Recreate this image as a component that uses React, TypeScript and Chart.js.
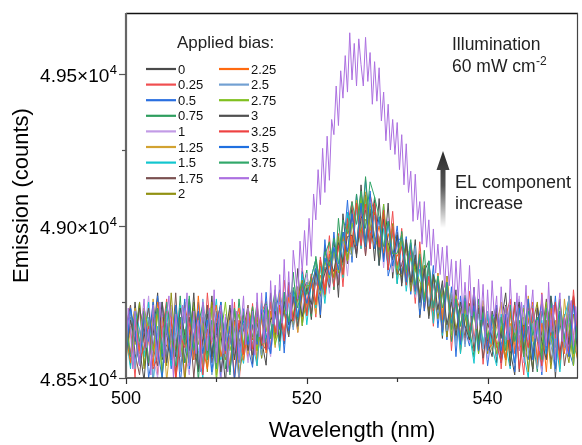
import { useEffect, useRef } from "react";
import { Chart, registerables } from "chart.js";

Chart.register(...registerables);

// Wavelength grids (nm)
const wavelengthBulk = [
  500, 500.5, 501, 501.5, 502, 502.5, 503, 503.5, 504, 504.5, 505, 505.5, 506, 506.5, 507, 507.5, 508, 508.5, 509, 509.5,
  510, 510.5, 511, 511.5, 512, 512.5, 513, 513.5, 514, 514.5, 515, 515.5, 516, 516.5, 517, 517.5, 518, 518.5, 519, 519.5,
  520, 520.5, 521, 521.5, 522, 522.5, 523, 523.5, 524, 524.5, 525, 525.5, 526, 526.5, 527, 527.5, 528, 528.5, 529, 529.5,
  530, 530.5, 531, 531.5, 532, 532.5, 533, 533.5, 534, 534.5, 535, 535.5, 536, 536.5, 537, 537.5, 538, 538.5, 539, 539.5,
  540, 540.5, 541, 541.5, 542, 542.5, 543, 543.5, 544, 544.5, 545, 545.5, 546, 546.5, 547, 547.5, 548, 548.5, 549, 549.5,
  550,
];

const wavelengthFine = [
  500, 500.25, 500.5, 500.75, 501, 501.25, 501.5, 501.75, 502, 502.25, 502.5, 502.75, 503, 503.25, 503.5, 503.75,
  504, 504.25, 504.5, 504.75, 505, 505.25, 505.5, 505.75, 506, 506.25, 506.5, 506.75, 507, 507.25, 507.5, 507.75,
  508, 508.25, 508.5, 508.75, 509, 509.25, 509.5, 509.75, 510, 510.25, 510.5, 510.75, 511, 511.25, 511.5, 511.75,
  512, 512.25, 512.5, 512.75, 513, 513.25, 513.5, 513.75, 514, 514.25, 514.5, 514.75, 515, 515.25, 515.5, 515.75,
  516, 516.25, 516.5, 516.75, 517, 517.25, 517.5, 517.75, 518, 518.25, 518.5, 518.75, 519, 519.25, 519.5, 519.75,
  520, 520.25, 520.5, 520.75, 521, 521.25, 521.5, 521.75, 522, 522.25, 522.5, 522.75, 523, 523.25, 523.5, 523.75,
  524, 524.25, 524.5, 524.75, 525, 525.25, 525.5, 525.75, 526, 526.25, 526.5, 526.75, 527, 527.25, 527.5, 527.75,
  528, 528.25, 528.5, 528.75, 529, 529.25, 529.5, 529.75, 530, 530.25, 530.5, 530.75, 531, 531.25, 531.5, 531.75,
  532, 532.25, 532.5, 532.75, 533, 533.25, 533.5, 533.75, 534, 534.25, 534.5, 534.75, 535, 535.25, 535.5, 535.75,
  536, 536.25, 536.5, 536.75, 537, 537.25, 537.5, 537.75, 538, 538.25, 538.5, 538.75, 539, 539.25, 539.5, 539.75,
  540, 540.25, 540.5, 540.75, 541, 541.25, 541.5, 541.75, 542, 542.25, 542.5, 542.75, 543, 543.25, 543.5, 543.75,
  544, 544.25, 544.5, 544.75, 545, 545.25, 545.5, 545.75, 546, 546.25, 546.5, 546.75, 547, 547.25, 547.5, 547.75,
  548, 548.25, 548.5, 548.75, 549, 549.25, 549.5, 549.75, 550,
];

// Emission (counts) per applied bias (V)
const bias0 = [
  48710, 48540, 48750, 48600, 48490, 48690, 48640, 48780, 48560, 48610, 48730, 48510, 48670, 48550, 48760, 48620, 48520, 48700, 48580, 48770, 48570, 48650, 48480, 48720, 48590, 48680,
  48578, 48730, 48545, 48720, 48625, 48542, 48780, 48640, 48770, 48612, 48815, 48668, 48860, 48672, 48815,
  48692, 48860, 48698, 48935, 48808, 48960, 48765, 49040, 48885, 49070, 48895, 49135, 48952, 49055, 48885, 49090, 48892, 49075, 48828, 48980,
  48802, 48955, 48815, 48955, 48698, 48850, 48885, 48700, 48825, 48630, 48835, 48680, 48790, 48590, 48722, 48615, 48798, 48580, 48715, 48600,
  48720, 48550, 48680, 48780, 48590, 48510, 48740, 48630, 48760, 48570, 48700, 48530, 48660, 48750, 48500, 48710, 48610, 48770, 48560, 48670,
];
const bias025 = [
  48580, 48670, 48500, 48740, 48620, 48560, 48720, 48510, 48650, 48760, 48550, 48600, 48700, 48490, 48730, 48570, 48660, 48530, 48780, 48610, 48540, 48710, 48640, 48520, 48750, 48480,
  48678, 48560, 48745, 48540, 48715, 48752, 48600, 48730, 48590, 48822, 48675, 48758, 48650, 48862, 48745,
  48842, 48700, 48898, 48795, 48968, 48790, 48975, 48800, 49005, 49080, 48915, 49045, 48902, 49105, 49035, 48870, 49052, 48895, 49048, 48830,
  48992, 48825, 48905, 48745, 48948, 48760, 48825, 48670, 48845, 48710, 48825, 48590, 48770, 48720, 48612, 48785, 48628, 48740, 48545, 48700,
  48620, 48740, 48530, 48700, 48760, 48580, 48640, 48510, 48730, 48680, 48560, 48780, 48600, 48670, 48750, 48540, 48710, 48570, 48790, 48610,
];
const bias05 = [
  48650, 48730, 48550, 48600, 48720, 48500, 48590, 48770, 48570, 48680, 48530, 48710, 48480, 48640, 48740, 48560, 48750, 48540, 48660, 48580, 48720, 48490, 48690, 48610, 48730, 48550,
  48728, 48600, 48535, 48730, 48595, 48782, 48580, 48710, 48790, 48582, 48785, 48768, 48660, 48852, 48715,
  48832, 48890, 48708, 48955, 48798, 48980, 48825, 48900, 49085, 48880, 49105, 48935, 49152, 48965, 49065, 48900, 49072, 48835, 48898, 49000,
  48842, 48965, 48775, 48905, 48708, 48850, 48725, 48870, 48665, 48800, 48625, 48800, 48570, 48770, 48662, 48605, 48788, 48610, 48705, 48540,
  48660, 48730, 48550, 48630, 48740, 48520, 48760, 48600, 48560, 48710, 48670, 48510, 48720, 48610, 48770, 48570, 48680, 48590, 48540, 48740,
];
const bias075 = [
  48590, 48700, 48640, 48750, 48540, 48660, 48570, 48730, 48510, 48740, 48650, 48580, 48770, 48550, 48620, 48730, 48490, 48680, 48720, 48570, 48670, 48750, 48530, 48640, 48560, 48760,
  48608, 48700, 48635, 48750, 48565, 48742, 48690, 48790, 48630, 48772, 48675, 48848, 48690, 48782, 48855,
  48702, 48900, 48798, 48905, 48948, 48790, 49025, 48870, 49035, 48930, 49105, 48965, 49162, 48985, 49095, 48890, 49032, 48885, 48988, 48810,
  48982, 48845, 48935, 48865, 48768, 48920, 48705, 48840, 48795, 48680, 48835, 48620, 48760, 48670, 48772, 48665, 48568, 48760, 48605, 48710,
  48610, 48730, 48660, 48560, 48720, 48620, 48750, 48590, 48690, 48630, 48520, 48720, 48660, 48760, 48570, 48680, 48600, 48740, 48580, 48670,
];
const bias1 = [
  48680, 48590, 48540, 48730, 48640, 48770, 48570, 48500, 48710, 48610, 48740, 48560, 48660, 48590, 48510, 48720, 48630, 48750, 48530, 48670, 48620, 48480, 48710, 48650, 48580, 48730,
  48658, 48550, 48715, 48610, 48745, 48642, 48570, 48740, 48680, 48642, 48765, 48678, 48780, 48722, 48845,
  48732, 48860, 48758, 48905, 48778, 48930, 48815, 48970, 48835, 49010, 48925, 49065, 48912, 49095, 48945, 49030, 48862, 49025, 48848, 48940,
  48862, 48905, 48925, 48765, 48878, 48740, 48835, 48720, 48835, 48660, 48795, 48640, 48740, 48650, 48732, 48615, 48728, 48610, 48695, 48560,
  48680, 48600, 48570, 48740, 48650, 48590, 48770, 48550, 48640, 48720, 48620, 48520, 48730, 48630, 48560, 48710, 48610, 48690, 48540, 48750,
];
const bias125 = [
  48560, 48660, 48730, 48580, 48690, 48540, 48760, 48610, 48700, 48490, 48640, 48720, 48570, 48750, 48550, 48620, 48710, 48530, 48670, 48740, 48510, 48680, 48600, 48730, 48500, 48650,
  48708, 48580, 48675, 48560, 48755, 48622, 48720, 48600, 48780, 48712, 48645, 48788, 48650, 48772, 48805,
  48822, 48710, 48868, 48765, 48918, 48830, 48935, 48830, 49025, 48940, 49085, 48925, 49112, 48985, 49055, 48880, 49042, 48895, 48978, 48830,
  48972, 48855, 48915, 48785, 48918, 48770, 48815, 48690, 48845, 48700, 48835, 48690, 48770, 48580, 48742, 48625, 48718, 48590, 48755, 48640,
  48590, 48670, 48750, 48540, 48680, 48610, 48730, 48580, 48770, 48620, 48700, 48560, 48740, 48640, 48690, 48530, 48760, 48630, 48570, 48710,
];
const bias15 = [
  48640, 48530, 48720, 48660, 48570, 48750, 48480, 48670, 48600, 48730, 48540, 48650, 48740, 48620, 48550, 48690, 48590, 48500, 48730, 48650, 48760, 48560, 48680, 48520, 48660, 48610,
  48548, 48690, 48615, 48540, 48745, 48612, 48650, 48740, 48590, 48742, 48635, 48778, 48670, 48842, 48675,
  48812, 48730, 48868, 48745, 48898, 48800, 48965, 48830, 49045, 48920, 49065, 48925, 49092, 48925, 49055, 48870, 48992, 48865, 48998, 48810,
  48952, 48785, 48905, 48775, 48858, 48730, 48855, 48680, 48835, 48640, 48795, 48660, 48750, 48580, 48712, 48645, 48548, 48730, 48605, 48710,
  48600, 48540, 48710, 48610, 48530, 48750, 48660, 48580, 48500, 48740, 48620, 48690, 48570, 48770, 48630, 48520, 48700, 48760, 48610, 48560,
];
const bias175 = [
  48670, 48740, 48580, 48510, 48650, 48730, 48600, 48540, 48750, 48640, 48570, 48780, 48530, 48630, 48700, 48500, 48670, 48610, 48740, 48550, 48640, 48720, 48590, 48520, 48690, 48620,
  48658, 48740, 48575, 48680, 48605, 48722, 48630, 48750, 48660, 48722, 48635, 48768, 48670, 48782, 48815,
  48712, 48820, 48768, 48865, 48798, 48920, 48805, 48980, 48875, 49040, 48905, 49075, 48902, 49055, 48965, 48920, 49052, 48855, 48988, 48840,
  48872, 48935, 48805, 48885, 48738, 48870, 48725, 48810, 48715, 48800, 48635, 48760, 48630, 48730, 48632, 48745, 48588, 48730, 48565, 48680,
  48630, 48730, 48560, 48710, 48600, 48750, 48520, 48680, 48610, 48530, 48740, 48640, 48760, 48550, 48650, 48720, 48540, 48640, 48770, 48590,
];
const bias2 = [
  48580, 48690, 48610, 48750, 48530, 48660, 48710, 48570, 48670, 48540, 48780, 48590, 48700, 48490, 48640, 48730, 48550, 48680, 48520, 48750, 48600, 48690, 48560, 48620, 48720, 48510,
  48598, 48720, 48625, 48700, 48565, 48692, 48740, 48630, 48730, 48712, 48795, 48668, 48760, 48822, 48705,
  48832, 48740, 48888, 48775, 48888, 48830, 48965, 48840, 49005, 48900, 49075, 48945, 49102, 48945, 49045, 48940, 49032, 48875, 49008, 48850,
  48832, 48945, 48785, 48875, 48778, 48870, 48705, 48830, 48695, 48790, 48635, 48780, 48660, 48730, 48702, 48625, 48758, 48630, 48715, 48580,
  48710, 48600, 48670, 48560, 48730, 48640, 48590, 48700, 48520, 48680, 48750, 48580, 48690, 48530, 48660, 48760, 48620, 48550, 48710, 48630,
];
const bias225 = [
  48640, 48550, 48680, 48590, 48730, 48620, 48540, 48750, 48650, 48580, 48690, 48500, 48610, 48740, 48660, 48560, 48770, 48600, 48530, 48670, 48740, 48570, 48640, 48540, 48680, 48730,
  48558, 48660, 48735, 48590, 48695, 48582, 48720, 48650, 48730, 48652, 48765, 48698, 48800, 48692, 48745,
  48812, 48740, 48838, 48785, 48868, 48850, 48855, 48960, 48885, 48970, 48935, 48985, 49022, 48975, 48935, 49000, 48912, 48975, 48908, 48900,
  48942, 48835, 48935, 48785, 48888, 48760, 48865, 48740, 48815, 48690, 48815, 48700, 48770, 48630, 48752, 48635, 48748, 48610, 48705, 48590,
  48610, 48700, 48620, 48560, 48720, 48590, 48670, 48570, 48690, 48750, 48540, 48680, 48520, 48730, 48630, 48710, 48580, 48760, 48640, 48550,
];
const bias25 = [
  48610, 48720, 48530, 48660, 48590, 48700, 48490, 48650, 48750, 48570, 48670, 48620, 48520, 48730, 48580, 48680, 48550, 48760, 48640, 48510, 48600, 48710, 48570, 48690, 48620, 48500,
  48698, 48600, 48715, 48660, 48575, 48712, 48640, 48700, 48750, 48632, 48745, 48658, 48780, 48702, 48815,
  48742, 48830, 48748, 48895, 48808, 48920, 48845, 48950, 48925, 48900, 49055, 48945, 49062, 48945, 49035, 48950, 49012, 48875, 48988, 48860,
  48942, 48865, 48825, 48935, 48728, 48860, 48735, 48810, 48715, 48810, 48655, 48780, 48610, 48750, 48602, 48735, 48618, 48710, 48595, 48720,
  48650, 48570, 48700, 48620, 48670, 48540, 48660, 48740, 48580, 48680, 48530, 48630, 48730, 48610, 48520, 48710, 48600, 48770, 48590, 48660,
];
const bias275 = [
  48680, 48580, 48640, 48540, 48730, 48660, 48590, 48710, 48500, 48680, 48610, 48730, 48570, 48660, 48550, 48750, 48610, 48680, 48560, 48730, 48490, 48640, 48750, 48590, 48660, 48710,
  48598, 48730, 48665, 48590, 48705, 48652, 48750, 48610, 48670, 48762, 48685, 48708, 48800, 48672, 48805,
  48802, 48860, 48778, 48885, 48828, 48920, 48845, 48980, 48885, 49010, 48935, 49095, 48932, 49075, 48955, 48930, 49072, 48915, 48998, 48860,
  48952, 48845, 48895, 48855, 48818, 48770, 48815, 48740, 48795, 48660, 48805, 48640, 48770, 48640, 48732, 48645, 48728, 48580, 48735, 48630,
  48700, 48580, 48660, 48740, 48550, 48670, 48610, 48730, 48640, 48530, 48690, 48600, 48750, 48630, 48570, 48710, 48620, 48680, 48540, 48720,
];
const bias3 = [
  48580, 48690, 48620, 48730, 48650, 48540, 48700, 48600, 48750, 48550, 48660, 48570, 48730, 48640, 48590, 48780, 48530, 48630, 48710, 48570, 48680, 48520, 48640, 48740, 48560, 48670,
  48708, 48590, 48675, 48630, 48715, 48592, 48690, 48720, 48620, 48752, 48675, 48698, 48780, 48702, 48795,
  48742, 48850, 48788, 48845, 48888, 48850, 48945, 48880, 48965, 48970, 48905, 49025, 49052, 48925, 49085, 48870, 49022, 48945, 48888, 48970,
  48812, 48955, 48815, 48905, 48748, 48860, 48695, 48840, 48725, 48820, 48675, 48750, 48640, 48750, 48672, 48625, 48758, 48620, 48735, 48620,
  48570, 48710, 48630, 48740, 48540, 48680, 48750, 48590, 48670, 48520, 48730, 48620, 48560, 48770, 48660, 48580, 48700, 48610, 48760, 48550,
];
const bias325 = [
  48640, 48580, 48700, 48560, 48600, 48670, 48530, 48570, 48660, 48720, 48700, 48490, 48640, 48600, 48680, 48620, 48710, 48510, 48660, 48620, 48690, 48740, 48580, 48660, 48500, 48690,
  48578, 48720, 48595, 48740, 48615, 48592, 48750, 48650, 48740, 48622, 48805, 48688, 48770, 48802, 48705,
  48842, 48750, 48888, 48775, 48908, 48800, 48935, 48840, 49025, 48930, 49075, 48935, 49072, 48925, 49075, 48930, 49052, 48855, 48998, 48870,
  48932, 48805, 48925, 48795, 48898, 48720, 48835, 48720, 48815, 48650, 48805, 48660, 48750, 48620, 48752, 48655, 48728, 48600, 48705, 48600,
  48710, 48610, 48550, 48690, 48590, 48740, 48530, 48670, 48600, 48730, 48620, 48540, 48720, 48640, 48750, 48560, 48690, 48580, 48770, 48630,
];
const bias35 = [
  48570, 48730, 48650, 48540, 48700, 48620, 48750, 48590, 48500, 48680, 48560, 48740, 48610, 48760, 48530, 48640, 48720, 48580, 48690, 48520, 48660, 48750, 48590, 48670, 48490, 48650,
  48688, 48610, 48725, 48610, 48725, 48642, 48580, 48750, 48660, 48782, 48655, 48788, 48700, 48812, 48745,
  48802, 48860, 48788, 48895, 48838, 48930, 48855, 48980, 48915, 49040, 48935, 49075, 48932, 49115, 48925, 49030, 48882, 49015, 48868, 48950,
  48962, 48815, 48945, 48785, 48898, 48720, 48885, 48730, 48825, 48650, 48815, 48680, 48760, 48610, 48762, 48635, 48738, 48590, 48705, 48590,
  48690, 48740, 48590, 48710, 48630, 48550, 48730, 48620, 48760, 48560, 48670, 48750, 48580, 48690, 48530, 48720, 48640, 48570, 48740, 48600,
];
const bias375 = [
  48660, 48570, 48710, 48620, 48720, 48550, 48670, 48730, 48580, 48750, 48650, 48540, 48700, 48610, 48770, 48590, 48680, 48740, 48560, 48690, 48530, 48710, 48640, 48510, 48730, 48600,
  48718, 48620, 48735, 48620, 48705, 48742, 48630, 48770, 48670, 48782, 48685, 48798, 48730, 48812, 48775,
  48832, 48890, 48798, 48915, 48868, 48960, 48875, 49020, 48975, 49080, 49005, 49115, 48992, 49145, 49095, 49030, 48932, 49015, 48908, 48910,
  48972, 48855, 48955, 48805, 48908, 48750, 48885, 48730, 48835, 48730, 48815, 48660, 48760, 48670, 48752, 48635, 48718, 48610, 48715, 48630,
  48710, 48630, 48700, 48590, 48740, 48620, 48690, 48570, 48720, 48640, 48700, 48560, 48730, 48660, 48600, 48750, 48630, 48710, 48580, 48690,
];
// 4 V, sampled on the fine grid
const bias4 = [
  48580, 48730, 48650, 48530, 48720, 48610, 48540, 48690, 48760, 48600, 48660, 48510, 48740, 48630, 48560, 48750, 48670, 48550, 48700, 48770,
  48620, 48500, 48710, 48640, 48570, 48740, 48680, 48780, 48540, 48610, 48720, 48580, 48690, 48520, 48750, 48650, 48590, 48730, 48620, 48790,
  48550, 48670, 48740, 48580, 48700, 48520, 48630, 48760, 48600, 48720, 48560, 48680, 48770, 48610, 48730, 48590,
  48720, 48575, 48780, 48635, 48780, 48615, 48740, 48595, 48820, 48677, 48805, 48642, 48840, 48680, 48890, 48710,
  48850, 48695, 48920, 48845, 48760, 48950, 48850, 48985,
  48870, 49025, 48900, 49105, 49020, 49185, 49070, 49255, 49110, 49295, 49150, 49350, 49300, 49460, 49330, 49510,
  49420, 49560, 49440, 49635,
  49480, 49600, 49460, 49615, 49530, 49460, 49620, 49475, 49570, 49400, 49540, 49410, 49520, 49345, 49440, 49280,
  49400, 49250, 49350, 49235,
  49340, 49185, 49300, 49135, 49270, 49110, 49180, 49015, 49170, 49020, 49080, 48940, 49080, 48930, 49020, 48870,
  48990, 48845, 48940, 48840,
  48930, 48798, 48935, 48803, 48890, 48732, 48885, 48758, 48890, 48712, 48815, 48708, 48870, 48704, 48798, 48662,
  48825, 48691, 48808, 48634,
  48790, 48650, 48820, 48700, 48770, 48620, 48800, 48680, 48735, 48625, 48825, 48695, 48650, 48780, 48590, 48750,
  48675, 48805, 48625, 48715, 48790, 48630, 48690, 48590, 48775, 48675, 48605, 48815, 48650, 48740, 48560, 48720,
  48780, 48620, 48700, 48580, 48715, 48755, 48605, 48735, 48650,
];

const biasLabels = ["0", "0.25", "0.5", "0.75", "1", "1.25", "1.5", "1.75", "2", "2.25", "2.5", "2.75", "3", "3.25", "3.5", "3.75", "4"];
const bulkSeries = [bias0, bias025, bias05, bias075, bias1, bias125, bias15, bias175, bias2, bias225, bias25, bias275, bias3, bias325, bias35, bias375];
const seriesColors = [
  "#4a4a4a", "#f04e50", "#2a6fe0", "#2e9e5e", "#c29be6", "#d2a231", "#12c6cf", "#7a5050", "#919112",
  "#ff6a10", "#72a0d2", "#80c020", "#505050", "#ee4242", "#2070e0", "#32a86a", "#ac70e0",
];

const yTickValues = [48500, 49000, 49500];
const yMinorValues = [48750, 49250];
const xTickValues = [500, 520, 540];
const xMinorValues = [510, 530];

const FONT = "'Liberation Sans', Arial, Helvetica, sans-serif";

function line(ctx: CanvasRenderingContext2D, x1: number, y1: number, x2: number, y2: number) {
  ctx.beginPath();
  ctx.moveTo(x1, y1);
  ctx.lineTo(x2, y2);
  ctx.stroke();
}

const decorPlugin = {
  id: "decor",
  afterDraw(chart: any) {
    const ctx: CanvasRenderingContext2D = chart.ctx;
    const { left, right, top, bottom } = chart.chartArea;
    const xs = chart.scales.x;
    const ys = chart.scales.y;
    ctx.save();

    // frame
    ctx.lineCap = "butt";
    ctx.strokeStyle = "#111";
    ctx.lineWidth = 1.3;
    line(ctx, left, top + 0.5, right, top + 0.5);
    ctx.strokeStyle = "#444";
    ctx.lineWidth = 1.2;
    line(ctx, right - 0.5, top, right - 0.5, bottom);
    ctx.strokeStyle = "#333";
    ctx.lineWidth = 1.6;
    line(ctx, left, bottom, right, bottom);
    ctx.strokeStyle = "#666";
    ctx.lineWidth = 2.2;
    line(ctx, left, top, left, bottom + 1);

    // ticks
    ctx.strokeStyle = "#555";
    ctx.lineWidth = 1.2;
    ys.ticks.forEach((t: any) => {
      const y = Math.round(ys.getPixelForValue(t.value)) + 0.5;
      line(ctx, left - 7, y, left, y);
    });
    yMinorValues.forEach((v) => {
      const y = Math.round(ys.getPixelForValue(v)) + 0.5;
      line(ctx, left - 4, y, left, y);
    });
    ctx.strokeStyle = "#333";
    xs.ticks.forEach((t: any) => {
      const x = Math.round(xs.getPixelForValue(t.value)) + 0.5;
      line(ctx, x, bottom, x, bottom + 6);
    });
    xMinorValues.forEach((v) => {
      const x = Math.round(xs.getPixelForValue(v)) + 0.5;
      line(ctx, x, bottom, x, bottom + 4);
    });

    // y tick labels with superscript exponent
    ctx.fillStyle = "#000";
    ys.ticks.forEach((t: any) => {
      const y = ys.getPixelForValue(t.value);
      const mant = (t.value / 1e4).toFixed(2) + "×10";
      ctx.font = `13px ${FONT}`;
      const supW = ctx.measureText("4").width;
      const rightX = left - 9;
      ctx.textAlign = "right";
      ctx.textBaseline = "alphabetic";
      ctx.fillText("4", rightX, y + 0.5);
      ctx.font = `19px ${FONT}`;
      ctx.fillText(mant, rightX - supW - 0.5, y + 8);
    });

    // legend
    ctx.textAlign = "left";
    ctx.textBaseline = "middle";
    ctx.font = `17px ${FONT}`;
    ctx.fillStyle = "#222";
    ctx.fillText("Applied bias:", 177, 43);
    ctx.font = `13px ${FONT}`;
    biasLabels.forEach((lab, i) => {
      const col = i < 9 ? 0 : 1;
      const row = col === 0 ? i : i - 9;
      const y = 69 + row * 15.6;
      const x0 = col === 0 ? 146 : 219;
      ctx.strokeStyle = seriesColors[i];
      ctx.lineWidth = 2.2;
      line(ctx, x0, y, x0 + 30, y);
      ctx.fillStyle = "#111";
      ctx.fillText(lab, x0 + 32, y + 1);
    });

    // illumination note
    ctx.fillStyle = "#222";
    ctx.font = `17.5px ${FONT}`;
    ctx.fillText("Illumination", 452, 45);
    ctx.textBaseline = "alphabetic";
    ctx.fillText("60 mW cm", 452, 72);
    const w60 = ctx.measureText("60 mW cm").width;
    ctx.font = `12px ${FONT}`;
    ctx.fillText("-2", 452 + w60 + 0.5, 65);

    // arrow
    const grad = ctx.createLinearGradient(0, 151, 0, 228);
    grad.addColorStop(0, "#2a2a2a");
    grad.addColorStop(0.45, "#555");
    grad.addColorStop(1, "rgba(255,255,255,1)");
    ctx.fillStyle = grad;
    ctx.beginPath();
    ctx.moveTo(443, 151);
    ctx.lineTo(449.5, 170);
    ctx.lineTo(445.5, 170);
    ctx.lineTo(445.5, 228);
    ctx.lineTo(440.5, 228);
    ctx.lineTo(440.5, 170);
    ctx.lineTo(436.5, 170);
    ctx.closePath();
    ctx.fill();

    ctx.fillStyle = "#222";
    ctx.font = `18px ${FONT}`;
    ctx.textBaseline = "middle";
    ctx.fillText("EL component", 455, 183);
    ctx.fillText("increase", 455, 204);

    ctx.restore();
  },
};

export default function App() {
  const ref = useRef<HTMLCanvasElement | null>(null);

  useEffect(() => {
    if (!ref.current) return;
    const n = biasLabels.length;
    const datasets = biasLabels.map((lab, i) => {
      const values = i < bulkSeries.length ? bulkSeries[i] : bias4;
      const grid = i < bulkSeries.length ? wavelengthBulk : wavelengthFine;
      return {
        label: lab,
        data: grid.map((x, k) => ({ x, y: values[k] })),
        borderColor: seriesColors[i],
        backgroundColor: seriesColors[i],
        borderWidth: 1,
        pointRadius: 0,
        tension: 0,
        fill: false,
        order: n - i,
      };
    });

    const chart = new Chart(ref.current, {
      type: "line",
      data: { datasets },
      options: {
        animation: false,
        responsive: false,
        events: [],
        layout: { padding: { left: 0, right: 4, top: 13, bottom: 0 } },
        plugins: { legend: { display: false }, tooltip: { enabled: false } },
        scales: {
          x: {
            type: "linear",
            min: 500,
            max: 550,
            grid: { display: false, drawTicks: false, tickLength: 0 },
            border: { display: false },
            ticks: {
              padding: 10,
              color: "#000",
              maxRotation: 0,
              autoSkip: false,
              font: { family: FONT, size: 18 },
            },
            afterBuildTicks: (s: any) => {
              s.ticks = xTickValues.map((v) => ({ value: v }));
            },
            title: {
              display: true,
              text: "Wavelength (nm)",
              color: "#000",
              font: { family: FONT, size: 22 },
              padding: { top: 0, bottom: 1 },
            },
            afterFit: (s: any) => {
              s.height = 67;
            },
          },
          y: {
            type: "linear",
            min: 48500,
            max: 49700,
            grid: { display: false, drawTicks: false, tickLength: 0 },
            border: { display: false },
            ticks: { display: false },
            afterBuildTicks: (s: any) => {
              s.ticks = yTickValues.map((v) => ({ value: v }));
            },
            title: {
              display: true,
              text: "Emission (counts)",
              color: "#000",
              font: { family: FONT, size: 22 },
              padding: { top: 9, bottom: 0 },
            },
            afterFit: (s: any) => {
              s.width = 126;
            },
          },
        },
      } as any,
      plugins: [decorPlugin],
    });
    return () => chart.destroy();
  }, []);

  return (
    <div style={{ position: "absolute", left: 0, top: 0, width: 582, height: 445, background: "#fff" }}>
      <canvas ref={ref} width={582} height={445} style={{ display: "block" }} />
    </div>
  );
}
